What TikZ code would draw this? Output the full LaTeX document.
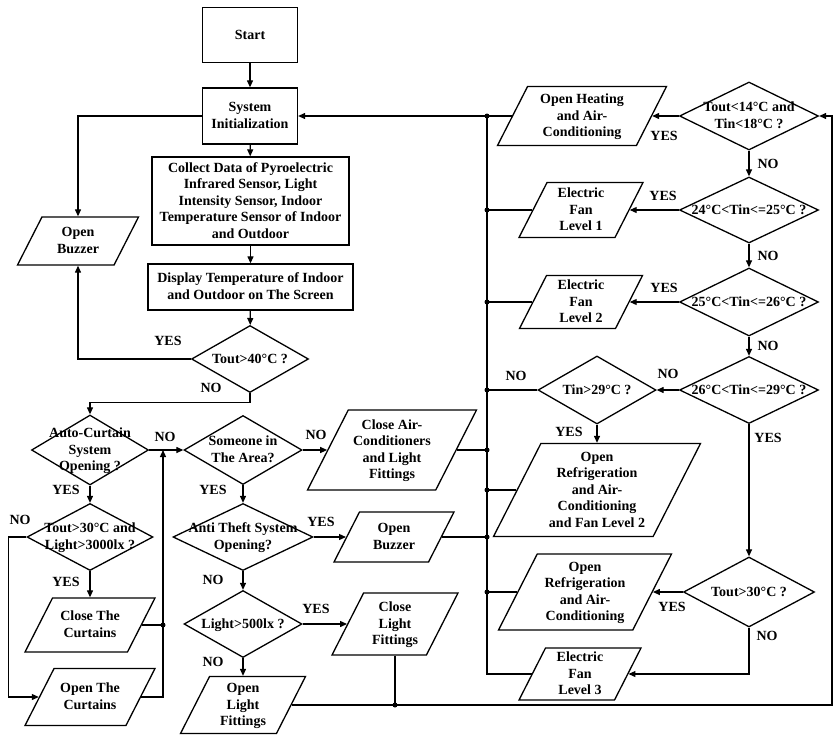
\documentclass[tikz,border=0pt]{standalone}
\usepackage{fontspec}
\setmainfont{Liberation Serif}
\usetikzlibrary{shapes.geometric,arrows.meta}
\newcommand{\tb}[1]{\smash{\makebox[0pt]{\raisebox{-4.5pt}{\begin{tabular}{@{}c@{}}#1\end{tabular}}}}}
\begin{document}
\begin{tikzpicture}[x=1pt,y=-1pt,line width=1.2pt,
    every node/.style={font=\bfseries\fontsize{14}{16.5}\selectfont},
    proc/.style={draw,rectangle,line width=1.3pt,inner sep=0pt},
    io/.style n args={2}{draw,trapezium,trapezium left angle=63,trapezium right angle=117,
      trapezium stretches body,line width=1.3pt,inner sep=0pt,
      minimum width=#1pt,text height=#2pt,text depth=#2pt},
    dec/.style={draw,diamond,line width=1.3pt,inner sep=0pt},
    lbl/.style={inner sep=0pt},
    dot/.style={circle,fill,inner sep=0pt,minimum size=5pt},
    arr/.style={-{Triangle[length=7pt,width=6pt]}}]
    \pgfmathsetmacro{\busx}{487};
    \pgfmathsetmacro{\loopx}{832};
    \fill[white] (0,0) rectangle (840,739);
    \node[proc,minimum width=95pt,minimum height=55pt] (start) at (250,35) {\tb{Start}};
    \node[proc,minimum width=95pt,minimum height=56pt] (init) at (250,116) {\tb{System\\Initialization}};
    \node[proc,minimum width=197pt,minimum height=88pt] (collect) at (250.5,201) {\tb{Collect Data of Pyroelectric\\Infrared Sensor, Light\\Intensity Sensor, Indoor\\Temperature Sensor of Indoor\\and Outdoor}};
    \node[proc,minimum width=205pt,minimum height=46pt] (display) at (250.5,287) {\tb{Display Temperature of Indoor\\and Outdoor on The Screen}};
    \node[dec,minimum width=117pt,minimum height=67pt] (d40) at (250,359) {\tb{Tout>40°C ?}};
    \node[io={121}{24}] (buz1) at (78,241) {\tb{Open\\Buzzer}};
    \node[dec,minimum width=117pt,minimum height=70pt] (dcurt) at (90,450) {\tb{Auto-Curtain\\System\\Opening ?}};
    \node[dec,minimum width=126pt,minimum height=67pt] (d30) at (90,537) {\tb{Tout>30°C and\\Light>3000lx ?}};
    \node[io={130}{27}] (closecurt) at (90,625) {\tb{Close The\\Curtains}};
    \node[io={130}{28.5}] (opencurt) at (90,697) {\tb{Open The\\Curtains}};
    \node[dec,minimum width=118pt,minimum height=69pt] (dsome) at (243,450) {\tb{Someone in\\The Area?}};
    \node[io={169}{40}] (closeac) at (392,450) {\tb{Close Air-\\Conditioners\\and Light\\Fittings}};
    \node[dec,minimum width=140pt,minimum height=67pt] (dtheft) at (243,537) {\tb{Anti Theft System\\Opening?}};
    \node[io={120}{25}] (buz2) at (394,537) {\tb{Open\\Buzzer}};
    \node[dec,minimum width=118pt,minimum height=67pt] (dlight) at (243,624) {\tb{Light>500lx ?}};
    \node[io={126}{31}] (cloself) at (395,624) {\tb{Close\\Light\\Fittings}};
    \node[io={125}{28.5}] (openlf) at (243,705) {\tb{Open\\Light\\Fittings}};
    \node[dec,minimum width=139pt,minimum height=68pt] (dr1) at (749,116) {\tb{Tout<14°C and\\Tin<18°C ?}};
    \node[dec,minimum width=139pt,minimum height=66pt] (dr2) at (749,210) {\tb{24°C<Tin<=25°C ?}};
    \node[dec,minimum width=139pt,minimum height=68pt] (dr3) at (749,302) {\tb{25°C<Tin<=26°C ?}};
    \node[dec,minimum width=139pt,minimum height=67pt] (dr4) at (749,390) {\tb{26°C<Tin<=29°C ?}};
    \node[dec,minimum width=118pt,minimum height=68pt] (dtin) at (597,390) {\tb{Tin>29°C ?}};
    \node[dec,minimum width=131pt,minimum height=70pt] (dr5) at (749,592) {\tb{Tout>30°C ?}};
    \node[io={169}{29.5}] (heat) at (582,116) {\tb{Open Heating\\and Air-\\Conditioning}};
    \node[io={124}{27.5}] (fan1) at (581,210) {\tb{Electric\\Fan\\Level 1}};
    \node[io={123}{26.5}] (fan2) at (581,302) {\tb{Electric\\Fan\\Level 2}};
    \node[io={207}{46.5}] (ref2) at (597,490) {\tb{Open\\Refrigeration\\and Air-\\Conditioning\\and Fan Level 2}};
    \node[io={173}{38}] (ref1) at (585,592) {\tb{Open\\Refrigeration\\and Air-\\Conditioning}};
    \node[io={122}{26}] (fan3) at (580,674) {\tb{Electric\\Fan\\Level 3}};
    \coordinate (cj) at (163,450);
    \coordinate (bt) at (\busx,116);
    \coordinate (lp) at (\loopx,705);
    \draw[arr] (start) -- (init);
    \draw[arr] (init) -- (collect);
    \draw[arr] (collect) -- (display);
    \draw[arr] (display) -- (d40);
    \draw[arr] (init.west) -| (buz1);
    \draw[arr] (d40.west) -| (buz1);
    \draw[arr] (d40.south) -- ++(0,9) -| (dcurt.north);
    \draw[arr] (dcurt) -- (dsome);
    \draw[arr] (dcurt) -- (d30);
    \draw[arr] (d30) -- (closecurt);
    \draw[arr] (d30.west) -- ++(-18,0) |- (opencurt);
    \draw (closecurt) -- (closecurt -| cj) node[dot] (jc) {};
    \draw[arr] (opencurt) -| (cj);
    \draw[arr] (dsome) -- (closeac);
    \draw[arr] (dsome) -- (dtheft);
    \draw[arr] (dtheft) -- (buz2);
    \draw[arr] (dtheft) -- (dlight);
    \draw[arr] (dlight) -- (cloself);
    \draw[arr] (dlight) -- (openlf);
    \draw[arr] (openlf) -- (lp) |- (dr1);
    \draw (cloself) -- (cloself |- lp) node[dot] (jl) {};
    \draw[arr] (heat) -- (init);
    \node[dot] (jh) at (bt) {};
    \draw (fan3) -| (bt);
    \foreach \n in {fan1,fan2,dtin,closeac,ref2,buz2,ref1}
        \draw (\n) -- (\n -| bt) node[dot] (j\n) {};
    \draw[arr] (dr1) -- (heat);
    \draw[arr] (dr2) -- (fan1);
    \draw[arr] (dr3) -- (fan2);
    \draw[arr] (dr4) -- (dtin);
    \draw[arr] (dr5) -- (ref1);
    \draw[arr] (dr1) -- (dr2);
    \draw[arr] (dr2) -- (dr3);
    \draw[arr] (dr3) -- (dr4);
    \draw[arr] (dr4) -- (dr5);
    \draw[arr] (dtin) -- (ref2);
    \draw[arr] (dr5.south) |- (fan3);
    \node[lbl] (y1) at (168,341) {YES};
    \node[lbl] (n1) at (211,388) {NO};
    \node[lbl] (n2) at (165,437) {NO};
    \node[lbl] (y2) at (66,490) {YES};
    \node[lbl] (n3) at (20,520) {NO};
    \node[lbl] (y3) at (66,582) {YES};
    \node[lbl] (n4) at (316,435) {NO};
    \node[lbl] (y4) at (213,490) {YES};
    \node[lbl] (y5) at (321,522) {YES};
    \node[lbl] (n5) at (213,580) {NO};
    \node[lbl] (y6) at (316,609) {YES};
    \node[lbl] (n6) at (213,662) {NO};
    \node[lbl] (y7) at (664,136) {YES};
    \node[lbl] (n7) at (768,164) {NO};
    \node[lbl] (y8) at (663,196) {YES};
    \node[lbl] (n8) at (768,256) {NO};
    \node[lbl] (y9) at (664,288) {YES};
    \node[lbl] (n9) at (768,346) {NO};
    \node[lbl] (n10) at (668,374) {NO};
    \node[lbl] (n11) at (516,376) {NO};
    \node[lbl] (y10) at (569,432) {YES};
    \node[lbl] (y11) at (768,438) {YES};
    \node[lbl] (y12) at (672,607) {YES};
    \node[lbl] (n12) at (767,636) {NO};
\end{tikzpicture}
\end{document}
